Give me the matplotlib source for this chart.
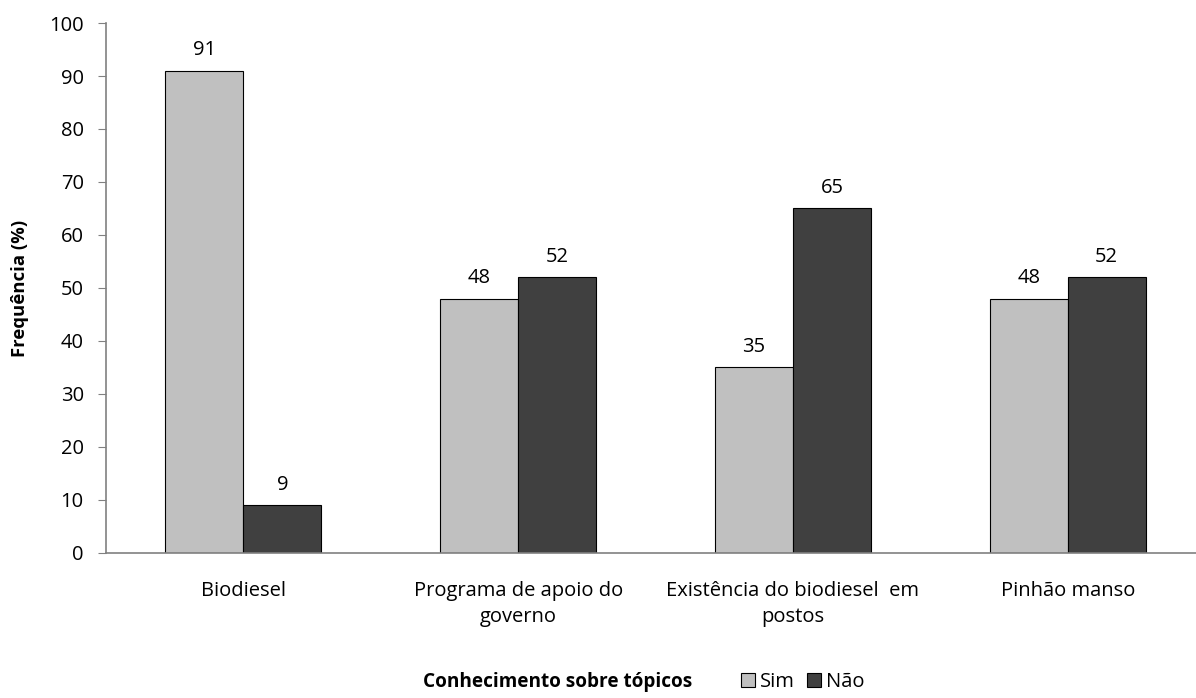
import numpy as np
import matplotlib.pyplot as plt
from matplotlib.patches import Patch

plt.rcParams['font.family'] = ['Open Sans', 'DejaVu Sans']

categories = ['Biodiesel', 'Programa de apoio do\ngoverno',
              'Existência do biodiesel  em\npostos', 'Pinhão manso']
sim = [91, 48, 35, 48]
nao = [9, 52, 65, 52]

sim_color = '#c0c0c0'
nao_color = '#404040'
fs = 14.5

fig = plt.figure(figsize=(11.96, 6.98), dpi=100)
ax = fig.add_axes([0.0886, 0.208, 0.919, 0.759])

x = np.arange(len(categories))
w = 0.284
b1 = ax.bar(x - w / 2, sim, w, color=sim_color, edgecolor='black', linewidth=0.8)
b2 = ax.bar(x + w / 2, nao, w, color=nao_color, edgecolor='black', linewidth=0.8)

for bars, vals in ((b1, sim), (b2, nao)):
    for rect, v in zip(bars, vals):
        ax.text(rect.get_x() + rect.get_width() / 2, v + 2.0, str(v),
                ha='center', va='bottom', fontsize=fs)

ax.set_xlim(-0.5, 3.5)
ax.set_ylim(0, 100)
ax.set_yticks(range(0, 101, 10))
ax.set_xticks(x)
ax.set_xticklabels(categories, fontsize=fs, linespacing=1.45)
ax.tick_params(axis='x', length=0, pad=20)
ax.tick_params(axis='y', labelsize=fs, length=6, color='#808080', pad=10)
for s in ('top', 'right'):
    ax.spines[s].set_visible(False)
for s in ('left', 'bottom'):
    ax.spines[s].set_color('#808080')
    ax.spines[s].set_linewidth(1.2)

fig.text(0.017, 0.587, 'Frequência (%)', rotation=90, ha='center', va='center',
         fontsize=fs - 1.2, fontweight='bold')

fig.text(0.466, 0.008, 'Conhecimento sobre tópicos', ha='center', va='bottom',
         fontsize=fs - 0.8, fontweight='bold')
handles = [Patch(facecolor=sim_color, edgecolor='black', linewidth=0.8, label='Sim'),
           Patch(facecolor=nao_color, edgecolor='black', linewidth=0.8, label='Não')]
fig.legend(handles=handles, loc='lower left', bbox_to_anchor=(0.604, -0.018), ncol=2,
           frameon=False, fontsize=fs, handlelength=0.7, handleheight=0.7,
           handletextpad=0.25, columnspacing=0.6)

fig.savefig('out.png', dpi=100)
